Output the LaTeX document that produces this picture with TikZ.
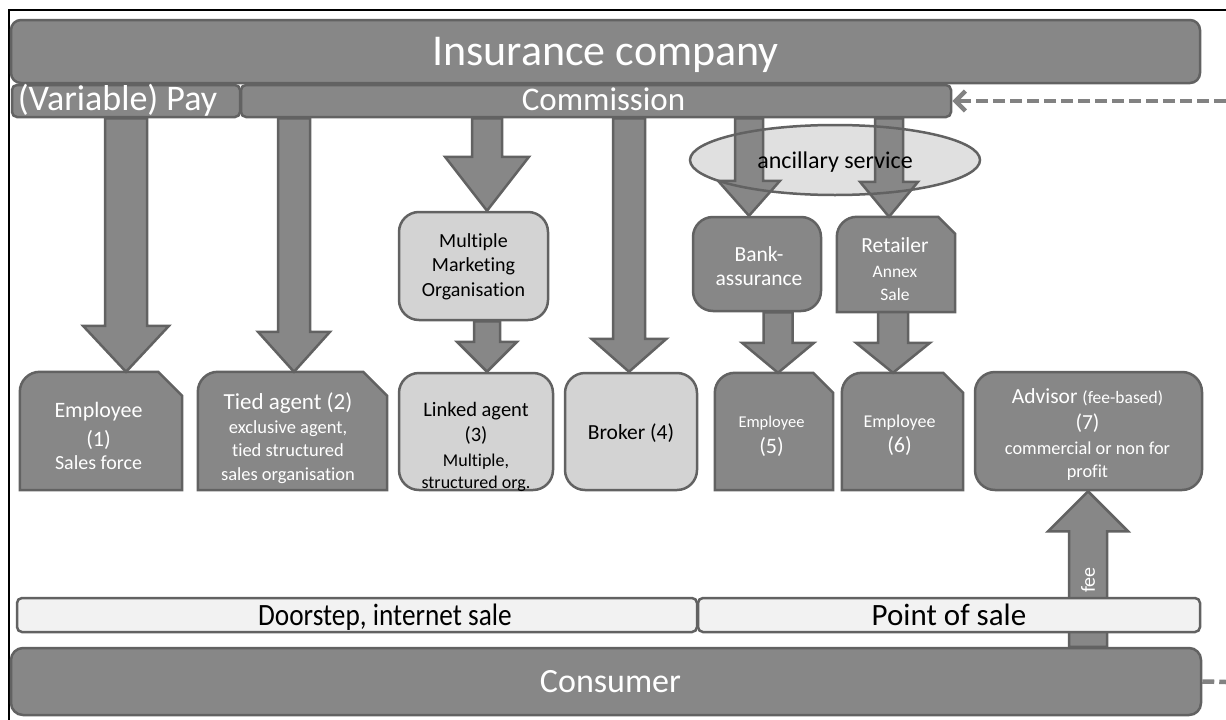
\documentclass[tikz,border=0pt]{standalone}
\usepackage{fontspec}
\usepackage{graphicx}
\setmainfont{Carlito}[Ligatures=NoCommon]
\usetikzlibrary{calc,shapes.geometric,arrows.meta}

\definecolor{dkfill}{RGB}{135,135,135}
\definecolor{edgegray}{RGB}{98,98,98}
\definecolor{ltfill}{RGB}{211,211,211}
\definecolor{barfill}{RGB}{242,242,242}
\definecolor{ellfill}{RGB}{224,224,224}
\definecolor{dashgray}{RGB}{130,130,130}

\newcommand\fs[2]{\fontsize{#1}{#2}\selectfont}

% block arrow pointing down: #1 x, #2 start anchor, #3 target anchor,
% #4 half shaft width, #5 half head width, #6 head length
\newcommand\arrowdown[6]{%
  \path[blockarrow] let \p1=(#2), \p2=(#3) in
    (#1pt-#4pt,\y1) -- (#1pt+#4pt,\y1) -- (#1pt+#4pt,\y2+#6pt) -- (#1pt+#5pt,\y2+#6pt)
    -- (#1pt,\y2) -- (#1pt-#5pt,\y2+#6pt) -- (#1pt-#4pt,\y2+#6pt) -- cycle;}
% block arrow pointing up
\newcommand\arrowup[6]{%
  \path[blockarrow] let \p1=(#2), \p2=(#3) in
    (#1pt-#4pt,\y1) -- (#1pt+#4pt,\y1) -- (#1pt+#4pt,\y2-#6pt) -- (#1pt+#5pt,\y2-#6pt)
    -- (#1pt,\y2) -- (#1pt-#5pt,\y2-#6pt) -- (#1pt-#4pt,\y2-#6pt) -- cycle;}
% box with rounded top-left and snipped top-right corner: #1 node, #2 snip size
\newcommand\snipbox[2]{%
  \path[darkshape] (#1.south west) -- ([yshift=-20pt]#1.north west)
    arc[start angle=180,end angle=90,radius=20pt]
    -- ([xshift=-#2pt]#1.north east) -- ([yshift=-#2pt]#1.north east)
    -- (#1.south east) -- cycle;}

\tikzset{
  outline/.style={draw=edgegray, line width=2.5pt},
  darkbar/.style={outline, fill=dkfill, text=white, inner sep=0pt},
  lightbar/.style={outline, fill=barfill, text=black, inner sep=0pt},
  darkshape/.style={outline, fill=dkfill, line join=miter},
  darkbox/.style={outline, fill=dkfill, rounded corners=20pt, inner sep=0pt},
  lightbox/.style={outline, fill=ltfill, rounded corners=20pt, inner sep=0pt},
  framebox/.style={inner sep=0pt, draw=none},
  wtext/.style={text=white, align=center, inner sep=0pt},
  btext/.style={text=black, align=center, inner sep=0pt},
  blockarrow/.style={outline, fill=dkfill, line join=miter},
  dasharrow/.style={dashgray, line width=4.5pt, dash pattern=on 12pt off 5pt},
}

\begin{document}
\begin{tikzpicture}[x=1pt,y=-1pt]
\useasboundingbox (0,0) rectangle (1226,720);

% outer frame
\coordinate (fbl) at (9,720);
\coordinate (ftl) at (9,10);
\coordinate (ftr) at (1226,10);
\draw[black, line width=2pt] (fbl) -- (ftl) -- (ftr);

% top bars
\node[darkbar, rounded corners=10pt, minimum width=1189pt, minimum height=63pt,
      text height=28pt, text depth=0pt] (company) at (605.5,51.5) {\fs{44}{50}Insurance company};
\node[darkbar, rounded corners=5pt, minimum width=228pt, minimum height=32pt,
      text height=23pt, text depth=5pt] (pay) at (126,101) {\fs{36}{40}\hspace*{-17pt}(Variable) Pay};
\node[darkbar, rounded corners=5pt, minimum width=710pt, minimum height=32pt,
      text height=21pt, text depth=3pt] (commission) at (596,101) {\fs{33}{36}\hspace*{15pt}Commission};

% ancillary service ellipse (fill)
\node[ellipse, fill=ellfill, minimum width=290pt, minimum height=70pt, inner sep=0pt] (anc) at (835,160) {};

% boxes
\node[framebox, minimum width=162pt, minimum height=118pt] (emp1) at (101,431) {};
\snipbox{emp1}{24}
\node[framebox, minimum width=189pt, minimum height=118pt] (tied) at (292.5,431) {};
\snipbox{tied}{24}
\node[lightbox, minimum width=149pt, minimum height=108pt] (mmo) at (473.5,266) {};
\node[lightbox, minimum width=154pt, minimum height=117pt] (linked) at (476,431.5) {};
\node[lightbox, minimum width=132pt, minimum height=117pt] (broker) at (631,431.5) {};
\node[darkbox, minimum width=128pt, minimum height=94pt] (bank) at (757,264) {};
\node[framebox, minimum width=118pt, minimum height=117pt] (emp5) at (774,431.5) {};
\snipbox{emp5}{20}
\node[framebox, minimum width=118pt, minimum height=95pt] (retailer) at (896,264.5) {};
\snipbox{retailer}{17}
\node[framebox, minimum width=121pt, minimum height=117pt] (emp6) at (902.5,431.5) {};
\snipbox{emp6}{20}
\node[darkbox, minimum width=227pt, minimum height=118pt] (advisor) at (1088.5,431) {};

% block arrows
\arrowdown{126}{pay.south}{emp1.north}{21}{43}{46}
\arrowdown{294}{commission.south}{tied.north}{16}{36}{40}
\arrowdown{487}{commission.south}{mmo.north}{15}{42}{54}
\arrowdown{487}{mmo.south}{linked.north}{13}{30}{30}
\arrowdown{629}{commission.south}{broker.north}{16}{37.5}{33}
\arrowdown{749}{commission.south}{bank.north}{14}{31}{35}
\arrowdown{889}{commission.south}{retailer.north}{14}{29}{35}
\arrowdown{778}{bank.south}{emp5.north}{14.5}{36}{30}
\arrowdown{893}{retailer.south}{emp6.north}{15}{37}{30}

% ancillary service ellipse (outline and text over the arrows)
\node[ellipse, draw=edgegray, line width=2.5pt, minimum width=290pt, minimum height=70pt,
      inner sep=0pt, text=black, font=\fs{24}{28}, text height=16pt, text depth=0pt]
      (anc-t) at (anc.center) {ancillary service};

% box texts
\node[wtext, font=\fs{22}{28.5}] (emp1-t) at (98.5,436)
  {Employee\\(1)\\[-5pt]{\fs{20}{23}Sales force}};
\node[wtext, font=\fs{18.5}{23.5}] (tied-t) at (288,438)
  {{\fs{23}{26}Tied agent (2)}\\exclusive agent,\\tied structured\\sales organisation};
\node[btext, font=\fs{20}{24.5}] (mmo-t) at (473.5,266.5)
  {Multiple\\Marketing\\Organisation};
\node[btext, font=\fs{20.5}{25}] (linked-t) at (476,447)
  {Linked agent\\(3)\\{\fs{18}{22}Multiple,}\\[-3pt]{\fs{18}{22}structured org.}};
\node[btext, font=\fs{21.5}{26}] (broker-t) at (631,433) {Broker (4)};
\node[wtext, font=\fs{21.5}{24}] (bank-t) at (759,266) {Bank-\\assurance};
\node[wtext, font=\fs{22}{26}] (emp5-t) at (771.5,436) {{\fs{16.5}{20}Employee}\\(5)};
\node[wtext, font=\fs{17.5}{23.5}] (retailer-t) at (895,269.5)
  {{\fs{21.5}{25}Retailer}\\[1pt]Annex\\Sale};
\node[wtext, font=\fs{22}{25.5}] (emp6-t) at (899.5,435.5) {{\fs{18}{22}Employee}\\(6)};
\node[wtext, font=\fs{21.5}{26}] (advisor-t) at (1087.5,434.5)
  {Advisor {\fs{17.5}{20}(fee-based)}\\(7)\\[-1pt]{\fs{18.3}{22}commercial or non for}\\[-3pt]{\fs{18.3}{22}profit}};

% consumer side
\node[darkbar, rounded corners=12pt, minimum width=1190pt, minimum height=67pt,
      text height=22pt, text depth=0pt] (consumer) at (606,681.5) {\fs{34}{38}\hspace*{9pt}Consumer};
\arrowup{1088}{consumer.north}{advisor.south}{19}{40}{40}
\node[wtext, rotate=90, font=\fs{20}{22}] (fee) at (1088,580) {fee};
\node[lightbar, rounded corners=5pt, minimum width=680pt, minimum height=34pt,
      text height=20pt, text depth=0pt] (doorstep) at (357,615)
  {\hspace*{56pt}\scalebox{0.88}[1]{\fs{31}{34}Doorstep, internet sale}};
\node[lightbar, rounded corners=5pt, minimum width=502pt, minimum height=34pt,
      text height=20pt, text depth=0pt] (pos) at (949,615) {\fs{31}{34}Point of sale};

% dashed links to the right
\coordinate (edgeT) at (1226,101);
\coordinate (edgeB) at (1226,682);
\draw[dasharrow, -{Straight Barb[length=10pt,width=20pt]}] (edgeT) -- (commission.east);
\draw[dasharrow] (consumer.east) -- (edgeB);
\end{tikzpicture}
\end{document}
